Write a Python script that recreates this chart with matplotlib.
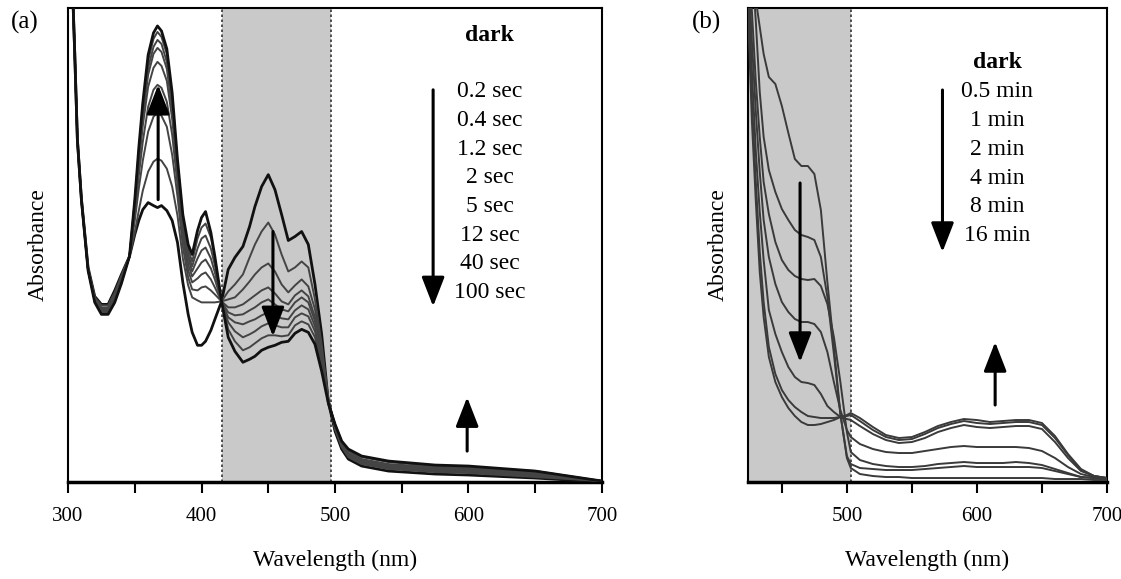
import numpy as np
import matplotlib
matplotlib.use('Agg')
import matplotlib.pyplot as plt

plt.rcParams['font.family'] = ['Liberation Serif', 'DejaVu Serif']

# ---- panel (a): spectra under illumination (arbitrary absorbance units) ----
wl_a = [300, 303, 305, 307, 310, 315, 320, 325, 330, 335, 340, 346, 350, 353, 356, 360,
        364, 367, 370, 374, 378, 382, 386, 390, 393, 397, 400, 403, 407, 410, 415, 420,
        425, 431, 436, 440, 445, 450, 455, 460, 465, 470, 475, 480, 485, 490, 495, 500,
        505, 510, 520, 540, 575, 600, 650, 700]

a_dark = [620, 510, 430, 343, 284, 215, 186, 178, 178, 192, 208, 226, 248, 262, 273, 280,
          277, 275, 277, 272, 262, 240, 200, 168, 150, 137, 137, 141, 152, 163, 181, 213,
          225, 236, 256, 276, 296, 308, 293, 268, 242, 246, 251, 238, 198, 148, 80, 51,
          33, 23, 16, 11, 8, 7, 4, 0]
a_02s = [620, 510, 430, 343, 284, 214, 185, 177, 177, 190, 207, 226, 250, 272, 292, 311,
         321, 324, 322, 314, 296, 267, 224, 197, 185, 182, 180, 180, 180, 180, 181, 191,
         198, 208, 225, 238, 251, 260, 248, 228, 211, 215, 221, 215, 183, 138, 83, 53,
         35, 25, 18, 13, 10, 9, 5, 1]
a_04s = [620, 510, 430, 343, 284, 214, 184, 175, 175, 188, 205, 226, 262, 294, 322, 351,
         366, 370, 367, 356, 328, 286, 236, 205, 193, 192, 195, 196, 192, 188, 181, 183,
         185, 193, 201, 208, 215, 219, 211, 198, 190, 197, 203, 196, 173, 133, 83, 54,
         36, 26, 19, 14, 11, 10, 6, 1]
a_12s = [620, 510, 430, 343, 283, 213, 184, 174, 174, 186, 204, 226, 269, 307, 341, 376,
         393, 398, 395, 381, 348, 298, 245, 212, 200, 204, 208, 210, 203, 195, 181, 175,
         175, 178, 183, 187, 192, 195, 189, 181, 178, 187, 192, 186, 165, 128, 82, 55,
         37, 27, 20, 15, 12, 11, 7, 1]
a_2s = [620, 510, 430, 343, 283, 213, 183, 173, 173, 185, 203, 226, 275, 318, 357, 396,
        415, 421, 417, 402, 364, 308, 252, 218, 206, 214, 220, 223, 214, 203, 181, 170,
        167, 168, 172, 175, 180, 183, 178, 173, 171, 180, 185, 180, 161, 125, 82, 56,
        38, 28, 21, 16, 13, 12, 8, 1]
a_5s = [620, 510, 430, 343, 283, 213, 183, 172, 172, 184, 202, 226, 278, 324, 366, 408,
        429, 435, 431, 414, 374, 314, 258, 224, 211, 224, 232, 235, 224, 210, 181, 165,
        160, 158, 161, 163, 167, 170, 167, 164, 163, 172, 177, 173, 156, 122, 81, 57,
        39, 29, 22, 17, 14, 13, 9, 1]
a_12sec = [620, 510, 430, 343, 283, 212, 182, 171, 171, 183, 201, 226, 280, 328, 371, 415,
           436, 443, 439, 421, 380, 317, 262, 228, 216, 234, 244, 247, 234, 217, 181, 160,
           151, 145, 148, 151, 156, 159, 157, 155, 155, 165, 169, 166, 151, 119, 81, 57,
           40, 31, 23, 18, 15, 14, 10, 1]
a_40s = [620, 510, 430, 343, 283, 212, 181, 170, 170, 182, 200, 226, 282, 332, 377, 422,
         444, 451, 446, 429, 386, 320, 265, 233, 221, 244, 255, 259, 245, 224, 181, 153,
         141, 132, 135, 139, 144, 147, 147, 146, 147, 157, 161, 158, 145, 115, 80, 58,
         41, 32, 25, 20, 16, 15, 11, 1]
a_100s = [620, 510, 430, 343, 283, 212, 180, 168, 168, 180, 199, 226, 283, 335, 380, 428,
          450, 457, 452, 434, 390, 323, 268, 238, 228, 252, 265, 271, 250, 226, 181, 145,
          131, 120, 123, 126, 132, 135, 137, 140, 141, 149, 153, 150, 138, 111, 79, 58,
          41, 33, 26, 21, 17, 16, 11, 1]
labels_a = ['0.2 sec', '0.4 sec', '1.2 sec', '2 sec', '5 sec', '12 sec', '40 sec', '100 sec']

# ---- panel (b): spectra in the dark ----
wl_b = [424, 427, 430, 433, 436, 440, 445, 450, 455, 460, 465, 470, 475, 480, 485, 490,
        495, 500, 503, 510, 520, 530, 540, 550, 560, 570, 580, 590, 600, 610, 620, 630,
        640, 650, 660, 670, 680, 690, 700]

b_dark = [600, 540, 482, 455, 428, 405, 398, 376, 349, 323, 316, 316, 308, 272, 200, 135,
          68, 24, 14, 8, 6, 5, 5, 4, 4, 4, 4, 4, 4, 4, 4, 4,
          4, 4, 3, 3, 3, 2, 2]
b_05m = [560, 520, 460, 390, 345, 312, 290, 273, 262, 252, 247, 245, 242, 225, 185, 128,
         68, 26, 18, 14, 13, 12, 12, 12, 13, 14, 15, 16, 15, 15, 15, 15,
         15, 14, 11, 8, 5, 4, 3]
b_1m = [530, 470, 400, 345, 300, 268, 240, 222, 212, 206, 203, 202, 203, 196, 178, 145,
        100, 50, 30, 22, 18, 16, 15, 15, 16, 18, 19, 20, 19, 19, 19, 20,
        19, 17, 13, 9, 5, 4, 3]
b_2m = [520, 440, 370, 310, 262, 225, 198, 180, 170, 163, 160, 160, 158, 150, 130, 100,
        72, 52, 45, 38, 33, 30, 29, 29, 31, 33, 35, 36, 35, 35, 35, 35,
        34, 31, 24, 15, 8, 5, 3]
b_4m = [500, 410, 330, 270, 222, 172, 148, 130, 115, 105, 100, 99, 97, 88, 76, 70,
        65, 63, 62, 56, 48, 42, 39, 40, 44, 50, 54, 57, 55, 54, 55, 56,
        56, 53, 40, 24, 11, 6, 4]
b_8m = [480, 380, 300, 230, 180, 135, 108, 92, 82, 75, 70, 66, 65, 64, 64, 64,
        65, 66, 67, 61, 52, 45, 42, 43, 48, 54, 58, 61, 59, 58, 59, 60,
        60, 57, 44, 27, 12, 6, 4]
b_16m = [470, 360, 280, 210, 165, 125, 100, 85, 74, 66, 60, 57, 57, 58, 60, 62,
         65, 67, 69, 64, 55, 47, 44, 45, 50, 56, 60, 63, 62, 60, 61, 62,
         62, 59, 46, 28, 13, 6, 4]
labels_b = ['0.5 min', '1 min', '2 min', '4 min', '8 min', '16 min']

curves_a = [a_dark, a_02s, a_04s, a_12s, a_2s, a_5s, a_12sec, a_40s, a_100s]
curves_b = [b_dark, b_05m, b_1m, b_2m, b_4m, b_8m, b_16m]

fig = plt.figure(figsize=(11.21, 5.79), dpi=100)
ax1 = fig.add_axes([0.0607, 0.1675, 0.4763, 0.8187])
ax2 = fig.add_axes([0.6673, 0.1675, 0.3202, 0.8187])

shade = '#c9c9c9'
fs = 17


def style_axes(ax, xlim, ylim, major, minor):
    ax.set_xlim(*xlim)
    ax.set_ylim(*ylim)
    ax.set_xticks(major)
    ax.set_xticks(minor, minor=True)
    ax.set_yticks([])
    ax.tick_params(axis='x', which='both', direction='out', length=8, width=1.5,
                   labelsize=15, pad=10)
    for s in ax.spines.values():
        s.set_linewidth(1.5)
    ax.spines['bottom'].set_linewidth(2.5)
    ax.set_xlabel('Wavelength (nm)', fontsize=fs, labelpad=17)
    ax.set_ylabel('Absorbance', fontsize=fs, labelpad=14)


def draw_arrow(ax, x, y0, y1):
    ax.annotate('', xy=(x, y1), xytext=(x, y0),
                arrowprops=dict(arrowstyle='-|>,head_length=0.9,head_width=0.35',
                                lw=2.2, color='k', shrinkA=0, shrinkB=0,
                                mutation_scale=20))


# panel (a)
ax1.axvspan(415, 497, color=shade, zorder=0, lw=0)
for xv in (415, 497):
    ax1.axvline(xv, color='#333333', ls=(0, (1.5, 1.5)), lw=1.2, zorder=1)
for i, c in enumerate(curves_a):
    lw = 2.0 if i in (0, len(curves_a) - 1) else 1.4
    col = '#111111' if i in (0, len(curves_a) - 1) else '#444444'
    ax1.plot(wl_a, c, color=col, lw=lw, zorder=3)
style_axes(ax1, (300, 700), (0, 475), [300, 400, 500, 600, 700],
           [350, 450, 550, 650])

ax1.text(616, 447, 'dark', ha='center', va='center', fontsize=fs, fontweight='bold')
for i, lab in enumerate(labels_a):
    ax1.text(616, 391 - 28.7 * i, lab, ha='center', va='center', fontsize=fs)
draw_arrow(ax1, 573.5, 393, 176)
draw_arrow(ax1, 367.5, 283, 398)
draw_arrow(ax1, 453.5, 251, 146)
draw_arrow(ax1, 599, 31, 85)

# panel (b)
ax2.axvspan(420, 503, color=shade, zorder=0, lw=0)
ax2.axvline(503, color='#333333', ls=(0, (1.5, 1.5)), lw=1.2, zorder=1)
for i, c in enumerate(curves_b):
    ax2.plot(wl_b, c, color='#3a3a3a', lw=1.4, zorder=3)
style_axes(ax2, (424, 700), (0, 474), [500, 600, 700], [450, 550, 650])

ax2.text(615.5, 419, 'dark', ha='center', va='center', fontsize=fs, fontweight='bold')
for i, lab in enumerate(labels_b):
    ax2.text(615.5, 390 - 28.7 * i, lab, ha='center', va='center', fontsize=fs)
draw_arrow(ax2, 573.5, 392, 230)
draw_arrow(ax2, 464, 299, 120)
draw_arrow(ax2, 614, 77, 140)

fig.text(0.022, 0.962, '(a)', fontsize=fs + 1, ha='center', va='center')
fig.text(0.630, 0.962, '(b)', fontsize=fs + 1, ha='center', va='center')

fig.savefig('out.png', dpi=100)
